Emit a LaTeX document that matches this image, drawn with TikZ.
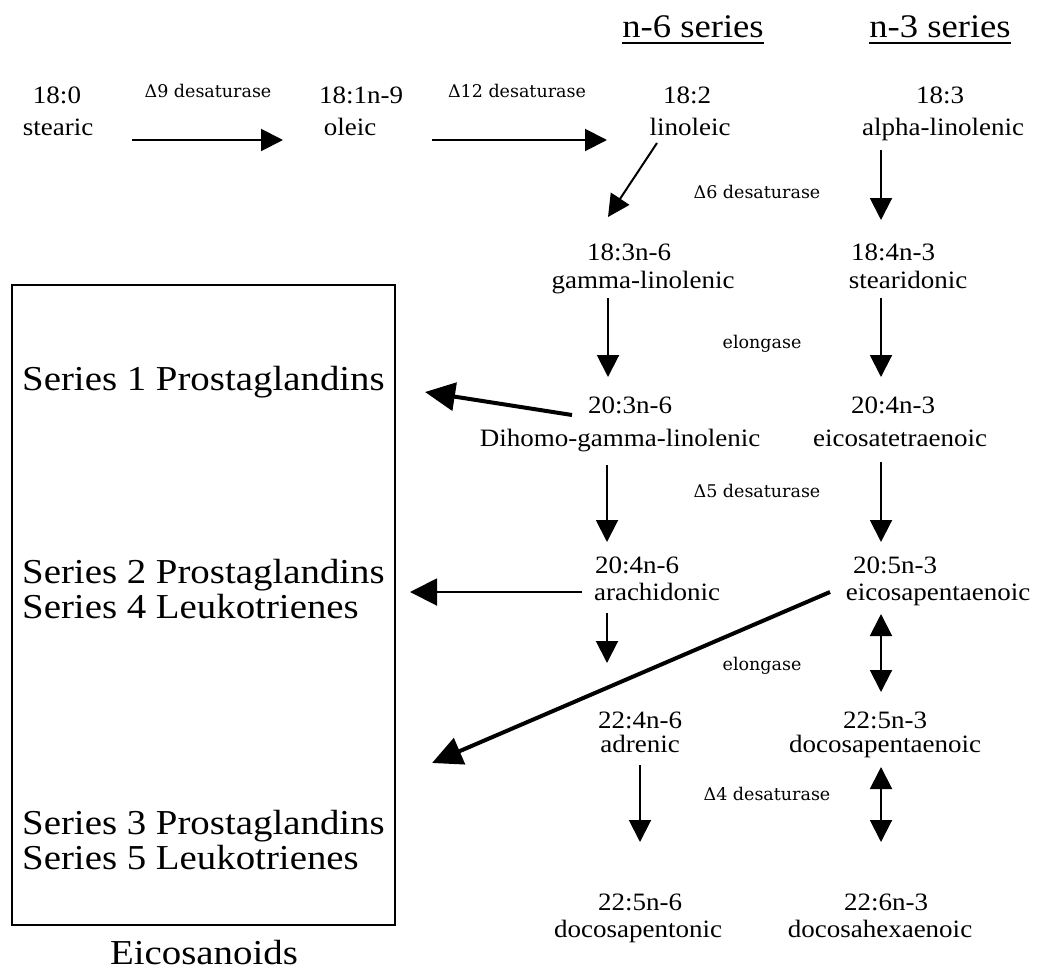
\documentclass[tikz,border=0pt]{standalone}
\usepackage{fontspec}
\setmainfont{Liberation Serif}[FakeStretch=1.08]
\newfontfamily\bigfont{Liberation Serif}[FakeStretch=1.11]
\newfontfamily\labfont{DejaVu Serif}
\usetikzlibrary{arrows.meta}
\tikzset{
  txt/.style={inner sep=0pt, anchor=base, font=\fontsize{25}{29}\selectfont},
  big/.style={inner sep=0pt, anchor=base, font=\bigfont\fontsize{35}{36}\selectfont},
  head/.style={inner sep=0pt, anchor=base, font=\bigfont\fontsize{33}{36}\selectfont},
  lab/.style={inner sep=0pt, anchor=base, font=\labfont\fontsize{17.5}{20}\selectfont},
  arr/.style={line width=2pt, -{Triangle[length=22pt,width=22pt]}},
  darr/.style={line width=2pt, {Triangle[length=22pt,width=22pt]}-{Triangle[length=22pt,width=22pt]}},
  thick arr/.style={line width=4pt, -{Triangle[length=30pt,width=28pt]}},
}
\begin{document}
\begin{tikzpicture}[x=1pt,y=-1pt]
\useasboundingbox (0,0) rectangle (1049,972);
% headings
\node[head] (h6) at (693,37) {n-6 series};
\node[head] (h3) at (940,37) {n-3 series};
\draw[line width=1.5pt] ([yshift=-6pt]h6.base west) -- ([yshift=-6pt]h6.base east);
\draw[line width=1.5pt] ([yshift=-6pt]h3.base west) -- ([yshift=-6pt]h3.base east);
% row 1
\node[txt] (f180) at (57,103) {18:0};
\node[txt] (stearic) at (58,135) {stearic};
\node[txt] (f181) at (361,103) {18:1n-9};
\node[txt] (oleic) at (350,135) {oleic};
\node[txt] (f182) at (687,103) {18:2};
\node[txt] (linoleic) at (690,135) {linoleic};
\node[txt] (f183) at (940,103) {18:3};
\node[txt] (alpha) at (943,135) {alpha-linolenic};
\node[lab] (d9) at (208,97) {Δ9 desaturase};
\node[lab] (d12) at (517,97) {Δ12 desaturase};
% row 2
\node[txt] (f183n6) at (629,260) {18:3n-6};
\node[txt] (gamma) at (643,288) {gamma-linolenic};
\node[txt] (f184) at (893,260) {18:4n-3};
\node[txt] (stearidonic) at (908,288) {stearidonic};
\node[lab] (d6) at (757,198) {Δ6 desaturase};
\node[lab] (el1) at (762,348) {elongase};
% row 3
\node[txt] (f203) at (630,413) {20:3n-6};
\node[txt] (dihomo) at (620,446) {Dihomo-gamma-linolenic};
\node[txt] (f204n3) at (893,413) {20:4n-3};
\node[txt] (etetra) at (900,446) {eicosatetraenoic};
\node[lab] (d5) at (757,497) {Δ5 desaturase};
% row 4
\node[txt] (f204n6) at (637,573) {20:4n-6};
\node[txt] (arach) at (657,600) {arachidonic};
\node[txt] (f205) at (895,573) {20:5n-3};
\node[txt] (epenta) at (938,600) {eicosapentaenoic};
\node[lab] (el2) at (762,670) {elongase};
% row 5
\node[txt] (f224) at (640,728) {22:4n-6};
\node[txt] (adrenic) at (640,752) {adrenic};
\node[txt] (f225n3) at (885,728) {22:5n-3};
\node[txt] (dpenta) at (885,752) {docosapentaenoic};
\node[lab] (d4) at (767,800) {Δ4 desaturase};
% row 6
\node[txt] (f225n6) at (640,910) {22:5n-6};
\node[txt] (dpento) at (638,937) {docosapentonic};
\node[txt] (f226) at (886,910) {22:6n-3};
\node[txt] (dhexa) at (880,937) {docosahexaenoic};
% eicosanoid box
\draw[line width=1.5pt] (12,285) rectangle (395,925);
\node[big, anchor=base west] (s1) at (22,390) {Series 1 Prostaglandins};
\node[big, anchor=base west] (s2) at (22,583) {Series 2 Prostaglandins};
\node[big, anchor=base west] (s4) at (22,618) {Series 4 Leukotrienes};
\node[big, anchor=base west] (s3) at (22,834) {Series 3 Prostaglandins};
\node[big, anchor=base west] (s5) at (22,869) {Series 5 Leukotrienes};
\node[big] (eico) at (204,964) {Eicosanoids};
% connector end points
\coordinate (a1s) at (132,140); \coordinate (a1e) at (283,140);
\coordinate (a2s) at (432,140); \coordinate (a2e) at (607,140);
\coordinate (a3s) at (657,143); \coordinate (a3e) at (608,217);
\coordinate (a4s) at (881,150); \coordinate (a4e) at (881,220);
\coordinate (a5s) at (608,298); \coordinate (a5e) at (608,377);
\coordinate (a6s) at (881,298); \coordinate (a6e) at (881,377);
\coordinate (a7s) at (572,415); \coordinate (a7e) at (425,392);
\coordinate (a8s) at (607,465); \coordinate (a8e) at (607,542);
\coordinate (a9s) at (881,462); \coordinate (a9e) at (881,542);
\coordinate (a10s) at (582,592); \coordinate (a10e) at (410,592);
\coordinate (a11s) at (607,613); \coordinate (a11e) at (607,663);
\coordinate (a12s) at (830,592); \coordinate (a12e) at (432,763);
\coordinate (a13s) at (881,614); \coordinate (a13e) at (881,692);
\coordinate (a14s) at (640,765); \coordinate (a14e) at (640,842);
\coordinate (a15s) at (881,767); \coordinate (a15e) at (881,842);
% connectors
\draw[arr] (a1s) -- (a1e);
\draw[arr] (a2s) -- (a2e);
\draw[arr] (a3s) -- (a3e);
\draw[arr] (a4s) -- (a4e);
\draw[arr] (a5s) -- (a5e);
\draw[arr] (a6s) -- (a6e);
\draw[thick arr] (a7s) -- (a7e);
\draw[arr] (a8s) -- (a8e);
\draw[arr] (a9s) -- (a9e);
\draw[arr, -{Triangle[length=27pt,width=27pt]}] (a10s) -- (a10e);
\draw[arr] (a11s) -- (a11e);
\draw[thick arr] (a12s) -- (a12e);
\draw[darr] (a13s) -- (a13e);
\draw[arr] (a14s) -- (a14e);
\draw[darr] (a15s) -- (a15e);
\end{tikzpicture}
\end{document}
